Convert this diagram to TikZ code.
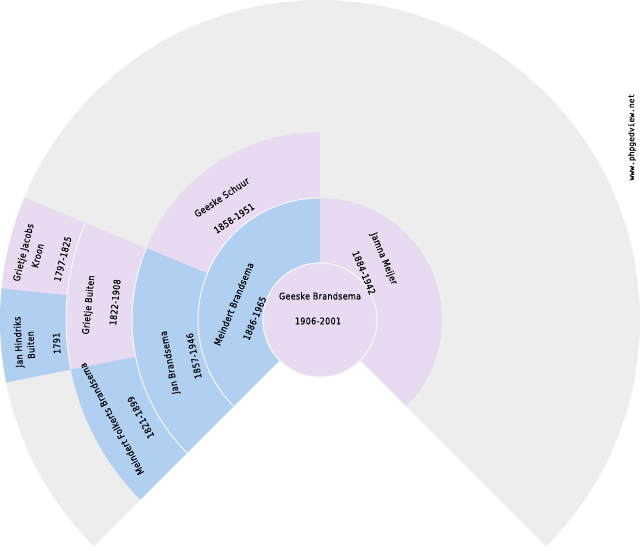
\documentclass[tikz,border=0pt]{standalone}
\usepackage{fontspec}
\setmainfont[FakeStretch=0.85,LetterSpace=4,FakeBold=0.4]{DejaVu Sans}
\newfontfamily\wmfont[FakeBold=0.6]{DejaVu Sans Mono}
\definecolor{fgrey}{HTML}{EDEDED}
\definecolor{fpink}{HTML}{E8DAF0}
\definecolor{fblue}{HTML}{B1D0F1}
\definecolor{fline}{HTML}{F6F6F6}
\tikzset{
  lbl/.style={font=\fontsize{9.3}{11}\selectfont, inner sep=0pt, text=black},
  arcline/.style={draw=fline, line width=1pt},
  wm/.style={font=\wmfont\fontsize{8}{9}\selectfont, inner sep=0pt, text=black, rotate=90},
}
\newcommand\fansector[5]{%
  \fill[#1] (#2:#4) arc[start angle=#2, end angle=#3, radius=#4]
    -- (#3:#5) arc[start angle=#3, end angle=#2, radius=#5] -- cycle;
  \draw[arcline] (#2:#4) arc[start angle=#2, end angle=#3, radius=#4];}
\begin{document}
\begin{tikzpicture}[x=1pt,y=1pt]
\useasboundingbox (-320,-230) rectangle (320,320);
% background for unknown ancestors
\fill[fgrey] (0,0) -- (-45:320pt) arc[start angle=-45, end angle=225, radius=320pt] -- cycle;
% ring 1
\fansector{fpink}{-45}{90}{57pt}{122pt}
\fansector{fblue}{90}{225}{57pt}{122pt}
% ring 2
\fansector{fpink}{90}{157.5}{122pt}{188pt}
\fansector{fblue}{157.5}{225}{122pt}{188pt}
% ring 3
\fansector{fpink}{157.5}{191.25}{188pt}{254pt}
\fansector{fblue}{191.25}{225}{188pt}{254pt}
% ring 4
\fansector{fpink}{157.5}{174.375}{254pt}{320pt}
\fansector{fblue}{174.375}{191.25}{254pt}{320pt}
% centre
\filldraw[arcline, fill=fpink] (0,0) circle[radius=57pt];
% texts
\node[lbl] (p1n) at (0,24) {Geeske Brandsema};
\node[lbl] (p1d) at (-2,-1) {1906-2001};
\node[lbl, rotate=-67.5] (p3n) at (63.7,61.3) {Jamna Meijer};
\node[lbl, rotate=-67.5] (p3d) at (44,47.3) {1884-1942};
\node[lbl, rotate=67.5] (p2n) at (-86.3,16) {Meindert Brandsema};
\node[lbl, rotate=67.5] (p2d) at (-65.3,1.7) {1886-1965};
\node[lbl, rotate=33.75] (p5n) at (-98.3,122.7) {Geeske Schuur};
\node[lbl, rotate=33.75] (p5d) at (-86,101.7) {1858-1951};
\node[lbl, rotate=101.25] (p4n) at (-150,-42.5) {Jan Brandsema};
\node[lbl, rotate=101.25] (p4d) at (-126,-36) {1857-1946};
\node[lbl, rotate=84.375] (p9n) at (-231,15) {Grietje Buiten};
\node[lbl, rotate=84.375] (p9d) at (-205,17.7) {1822-1908};
\node[lbl, rotate=118.125] (p8n) at (-208.3,-99) {Meindert Folkerts Brandsema};
\node[lbl, rotate=118.125] (p8d) at (-179.3,-97.3) {1821-1899};
\node[lbl, rotate=92.8] (p18a) at (-301,-22) {Jan Hindriks};
\node[lbl, rotate=92.8] (p18b) at (-289.3,-25) {Buiten};
\node[lbl, rotate=92.8] (p18d) at (-263.3,-23.3) {1791};
\node[lbl, rotate=75.9] (p19a) at (-296,67.3) {Grietje Jacobs};
\node[lbl, rotate=75.9] (p19b) at (-282.3,64.3) {Kroon};
\node[lbl, rotate=75.9] (p19d) at (-257.3,61) {1797-1825};
\node[wm] (wmark) at (312,183) {www.phpgedview.net};
\end{tikzpicture}
\end{document}
